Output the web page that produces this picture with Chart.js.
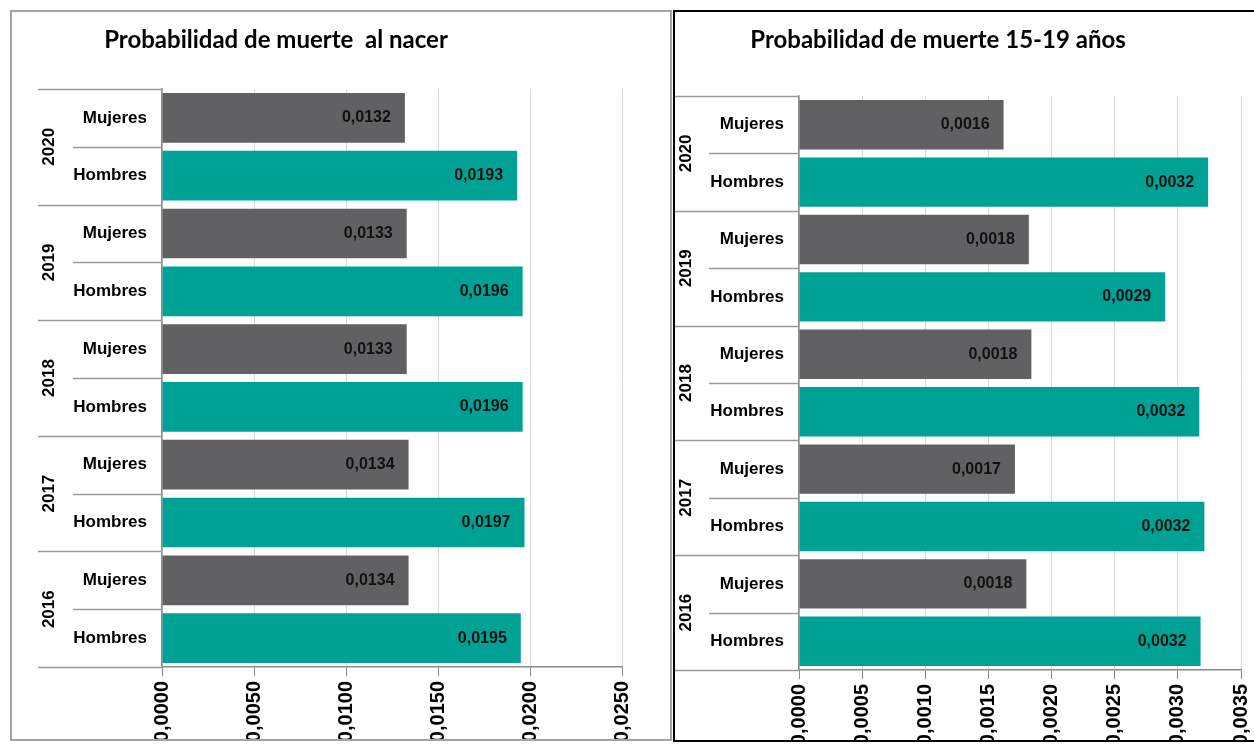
<!DOCTYPE html>
<html>
<head>
<meta charset="utf-8">
<script src="https://cdn.jsdelivr.net/npm/chart.js@4.4.0/dist/chart.umd.min.js"></script>
<style>
    body { margin: 0; background: #fff; width: 1254px; height: 750px; overflow: hidden; position: relative; }
    .panel { position: absolute; box-sizing: border-box; overflow: hidden; background: #fff; }
    #panel-left { left: 10px; top: 10px; width: 662px; height: 731px; border: 2px solid #a3a3a3; }
    #panel-right { left: 673px; top: 10px; width: 600px; height: 732px; border: 2px solid #000; border-right: none; }
    canvas { display: block; }
</style>
</head>
<body>
<div class="panel" id="panel-left"><canvas id="nacerChart" width="658" height="727"></canvas></div>
<div class="panel" id="panel-right"><canvas id="jovenesChart" width="598" height="728"></canvas></div>

<script>
// DATA
const years = ["2016", "2017", "2018", "2019", "2020"];

const nacerMujeres = [0.0134, 0.0134, 0.0133, 0.0133, 0.0132];
const nacerHombres = [0.0195, 0.0197, 0.0196, 0.0196, 0.0193];

const jovenesMujeres = [0.00180, 0.00171, 0.00184, 0.00182, 0.00162];
const jovenesHombres = [0.00318, 0.00321, 0.00317, 0.00290, 0.00324];

const nacerTicks = { max: 0.025, step: 0.005 };
const jovenesTicks = { max: 0.0035, step: 0.0005 };

const colorMujeres = "#616163";
const colorHombres = "#00a195";

const labelFont = 'bold 17px "Liberation Sans", Arial, sans-serif';
const valueFont = 'bold 16px "Liberation Sans", Arial, sans-serif';

function fmt(v) {
    return v.toFixed(4).replace(".", ",");
}

// rows top to bottom: newest year first, Mujeres above Hombres
function buildRows(mujeres, hombres) {
    const rows = [];
    for (let i = years.length - 1; i >= 0; i--) {
        rows.push({ year: years[i], sex: "Mujeres", value: mujeres[i] });
        rows.push({ year: years[i], sex: "Hombres", value: hombres[i] });
    }
    return rows;
}

// DECORATION: title, grouped category labels, separators, value labels
const decorPlugin = {
    id: "decor",
    afterDraw(chart, args, opts) {
        const ctx = chart.ctx;
        const area = chart.chartArea;
        const y = chart.scales.y;
        const rows = opts.rows;
        const step = (y.bottom - y.top) / rows.length;

        ctx.save();

        // title
        ctx.font = 'bold 24px Lato, "Open Sans", sans-serif';
        ctx.fillStyle = "#000";
        ctx.textAlign = "center";
        ctx.textBaseline = "middle";
        ctx.fillText(opts.title, opts.titleX, opts.titleY);

        // separators
        ctx.strokeStyle = "#9a9a9a";
        ctx.lineWidth = 1.5;
        for (let i = 0; i <= rows.length; i++) {
            const py = Math.round(i === rows.length ? y.bottom : y.getPixelForValue(i) - step / 2) + 0.5;
            const x0 = i % 2 === 0 ? opts.yearLeft : opts.subLeft;
            ctx.beginPath();
            ctx.moveTo(x0, py);
            ctx.lineTo(area.left, py);
            ctx.stroke();
        }

        // category labels
        ctx.font = labelFont;
        ctx.fillStyle = "#000";
        ctx.textAlign = "right";
        rows.forEach((r, i) => {
            ctx.fillText(r.sex, area.left - 15, y.getPixelForValue(i));
        });

        // year labels
        ctx.textAlign = "center";
        for (let i = 0; i < rows.length; i += 2) {
            const cy = (y.getPixelForValue(i) + y.getPixelForValue(i + 1)) / 2;
            ctx.save();
            ctx.translate(opts.yearX, cy);
            ctx.rotate(-Math.PI / 2);
            ctx.fillText(rows[i].year, 0, 0);
            ctx.restore();
        }

        // value labels
        ctx.font = valueFont;
        ctx.textAlign = "right";
        ctx.fillStyle = "#111";
        chart.getDatasetMeta(0).data.forEach((bar, i) => {
            ctx.fillText(fmt(rows[i].value), bar.x - 14, bar.y);
        });

        ctx.restore();
    }
};

// CHART
function createChart(canvasId, rows, ticks, box) {
    return new Chart(document.getElementById(canvasId), {
        type: "bar",
        data: {
            labels: rows.map(r => r.year + " " + r.sex),
            datasets: [{
                data: rows.map(r => r.value),
                backgroundColor: rows.map(r => r.sex === "Mujeres" ? colorMujeres : colorHombres),
                categoryPercentage: 1,
                barPercentage: 0.86
            }]
        },
        options: {
            indexAxis: "y",
            responsive: false,
            animation: false,
            devicePixelRatio: 1,
            layout: { padding: { top: box.top, right: box.right, left: 0, bottom: 0 } },
            plugins: {
                legend: { display: false },
                tooltip: { enabled: false },
                decor: {
                    rows: rows,
                    title: box.title,
                    titleX: box.titleX,
                    titleY: box.titleY,
                    yearLeft: box.yearLeft,
                    subLeft: box.subLeft,
                    yearX: box.yearX
                }
            },
            scales: {
                x: {
                    min: 0,
                    max: ticks.max,
                    afterFit: s => { s.height = box.axisHeight; },
                    afterBuildTicks: s => {
                        const out = [];
                        for (let v = 0; v <= ticks.max + ticks.step / 2; v += ticks.step) out.push({ value: v });
                        s.ticks = out;
                    },
                    ticks: {
                        autoSkip: false,
                        minRotation: 90,
                        maxRotation: 90,
                        padding: 5,
                        color: "#000",
                        font: { family: '"Liberation Sans", Arial, sans-serif', size: 20, weight: "bold" },
                        callback: v => fmt(v)
                    },
                    grid: { color: "#d9d9d9", lineWidth: 1, tickColor: "#8a8a8a", tickLength: 9 },
                    border: { color: "#8a8a8a", width: 1.5 }
                },
                y: {
                    afterFit: s => { s.width = box.left; },
                    ticks: { display: false },
                    grid: { display: false },
                    border: { color: "#8a8a8a", width: 1.5 }
                }
            }
        },
        plugins: [decorPlugin]
    });
}

createChart("nacerChart", buildRows(nacerMujeres, nacerHombres), nacerTicks, {
    title: "Probabilidad de muerte  al nacer",
    titleX: 264, titleY: 28,
    top: 77, right: 48, left: 150, axisHeight: 72,
    yearLeft: 26, subLeft: 61, yearX: 37
});

createChart("jovenesChart", buildRows(jovenesMujeres, jovenesHombres), jovenesTicks, {
    title: "Probabilidad de muerte 15-19 años",
    titleX: 263, titleY: 28,
    top: 84, right: 32, left: 124, axisHeight: 70,
    yearLeft: 0, subLeft: 34, yearX: 11
});
</script>
</body>
</html>
